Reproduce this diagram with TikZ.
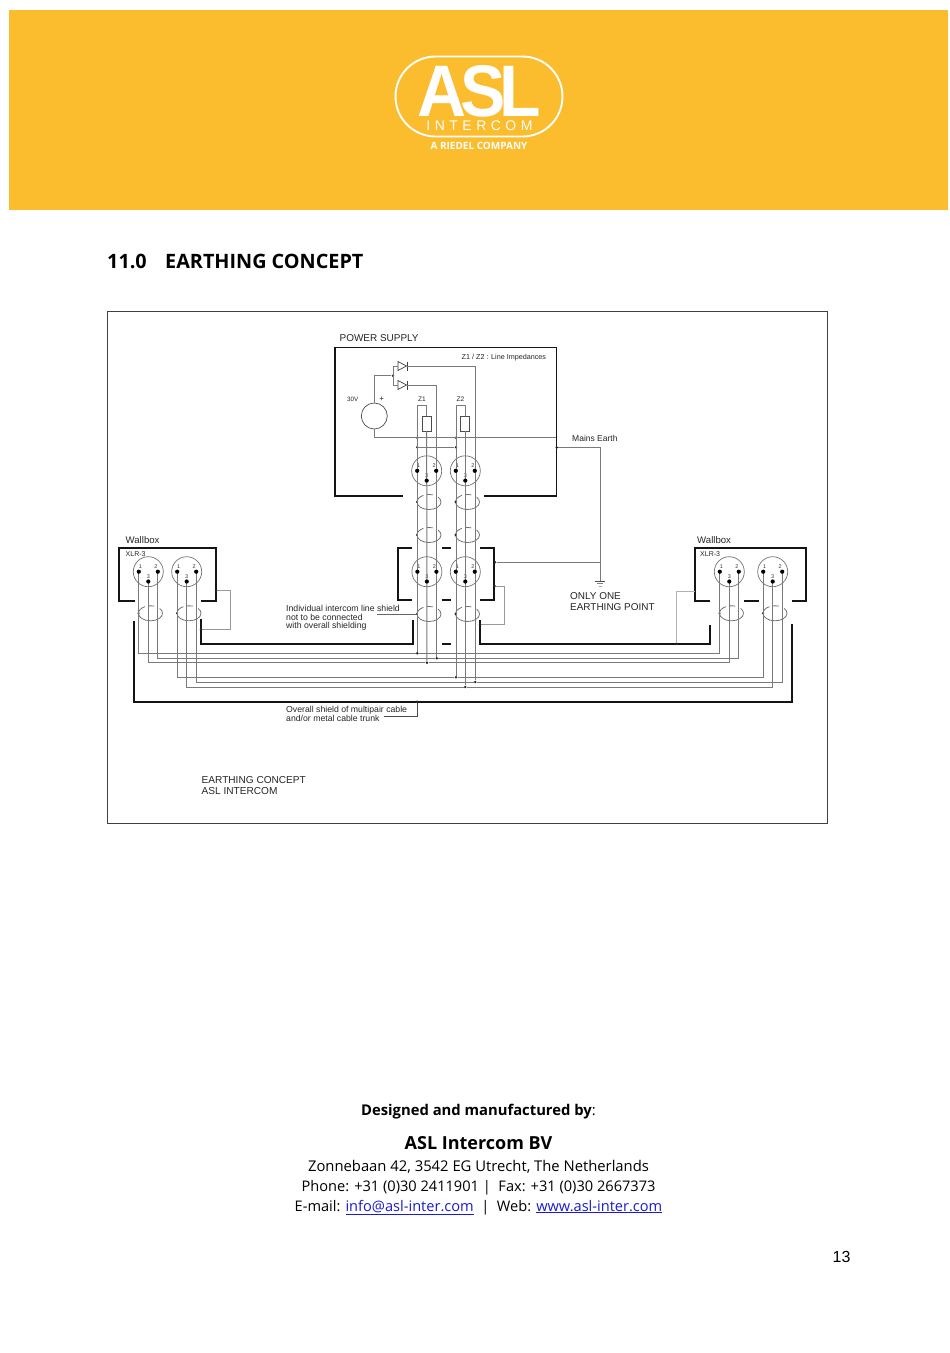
\documentclass[tikz,border=0pt]{standalone}
\usepackage{fontspec}
\setmainfont{Liberation Sans}
\newfontfamily\osans{Open Sans}
\newfontfamily\lspaced[LetterSpace=32]{Liberation Sans}
\definecolor{aslyellow}{HTML}{FBBC2D}
\definecolor{linkblue}{HTML}{1A1AD0}
\definecolor{wirecol}{gray}{0.48}
\definecolor{softwire}{gray}{0.6}
\newcommand{\fsz}[1]{\fontsize{#1}{#1}\selectfont}
\tikzset{
  x=1pt,y=-1pt,
  wire/.style={draw=wirecol,line width=1pt},
  softw/.style={draw=softwire,line width=0.8pt},
  heavy/.style={draw=black!92,line width=1.9pt},
  txt/.style={inner sep=0pt,anchor=base west,text=black!85},
  ctxt/.style={inner sep=0pt,anchor=base,text=black},
  shell/.style={circle,draw=black!55,line width=0.7pt,minimum size=30pt,inner sep=0pt},
  pindot/.style={circle,fill=black,minimum size=4.2pt,inner sep=0pt},
  jdot/.style={circle,fill=black!85,minimum size=2.8pt,inner sep=0pt},
  pinlab/.style={inner sep=0pt,text=black!80,font=\fsz{5.4}},
  shieldline/.style={draw=black!55,line width=0.8pt},
  res/.style={rectangle,draw=black!70,line width=0.7pt,fill=white,minimum width=9pt,minimum height=15pt,inner sep=0pt},
}
% connector: name, x, y
\newcommand{\xlr}[3]{%
  \node[shell] (#1) at (#2,#3) {};
  \node[pinlab] at (#2-8,#3-5) {1};
  \node[pinlab] at (#2+7.5,#3-5) {2};
  \node[pinlab] at (#2,#3+5) {3};
  \coordinate (#1a) at (#2-9.5,#3);
  \coordinate (#1b) at (#2+9.5,#3);
  \coordinate (#1c) at (#2,#3+9.8);
}
% pins are drawn over the wires
\newcommand{\xlrpins}[1]{%
  \node[pindot] at (#1a) {};
  \node[pindot] at (#1b) {};
  \node[pindot] at (#1c) {};
}
% cable shield loop: name, x, y
\newcommand{\shieldloop}[3]{%
  \coordinate (#1) at (#2-12,#3);
  \draw[shieldline] ([shift={(#2,#3)}]180:12pt and 7.5pt) arc[start angle=180,end angle=360,x radius=12pt,y radius=7.5pt];
  \draw[shieldline] ([shift={(#2,#3)}]180:12pt and 7.5pt) arc[start angle=180,end angle=118,x radius=12pt,y radius=7.5pt];
  \draw[shieldline] ([shift={(#2,#3)}]100:12pt and 7.5pt) arc[start angle=100,end angle=72,x radius=12pt,y radius=7.5pt];
  \draw[shieldline] ([shift={(#2,#3)}]40:12pt and 7.5pt) arc[start angle=40,end angle=0,x radius=12pt,y radius=7.5pt];
  \node[jdot,minimum size=2.2pt] at (#1) {};
}
% diode pointing right: name, x, y
\newcommand{\diode}[3]{%
  \coordinate (#1in) at (#2-4.5,#3);
  \coordinate (#1out) at (#2+4.5,#3);
  \draw[draw=black!75,line width=0.7pt] (#2-4.5,#3-4.5) -- (#2+4,#3) -- (#2-4.5,#3+4.5) -- cycle;
  \draw[draw=black!75,line width=0.9pt] (#2+4.5,#3-4.5) -- (#2+4.5,#3+4.5);
}
\begin{document}
\begin{tikzpicture}
\useasboundingbox (0,0) rectangle (950,1353);
\fill[white] (0,0) rectangle (950,1353);
% header
\fill[aslyellow] (9,10) rectangle (947.5,210);
\node[draw=white,line width=1.9pt,rounded corners=40pt,minimum width=167pt,minimum height=80pt,inner sep=0pt] (logoframe) at (479,96.5) {};
\node[inner sep=0pt,anchor=base,text=white] (logoasl) at (479,116) {\fsz{73}\bfseries\scalebox{0.93}[1]{A\kern-6pt S\kern-7pt L}};
\node[inner sep=0pt,anchor=base,text=white] (logoint) at (479.5,130) {\lspaced\fsz{14}INTERCOM};
\node[inner sep=0pt,anchor=base,text=white] (logoriedel) at (479,149) {\osans\fsz{10}\bfseries A RIEDEL COMPANY};
% title
\node[inner sep=0pt,anchor=base west,text=black] (title) at (107,268) {\osans\fsz{19.8}\bfseries 11.0};
\node[inner sep=0pt,anchor=base west,text=black] (title2) at (165,268) {\osans\fsz{19.8}\bfseries EARTHING CONCEPT};
% frame
\node[draw=black!75,line width=0.8pt,minimum width=720pt,minimum height=512pt,inner sep=0pt] (frame) at (467,567) {};

% ---------- power supply box
\draw[heavy] (402.7,495.7) -- (335,495.7) -- (335,347.5) -- (556.5,347.5) -- (556.5,495.7) -- (484,495.7);
\node[txt] (pslabel) at (339.5,341.5) {\fsz{9.95}POWER SUPPLY};
\node[txt] (zlabel) at (461.5,359.2) {\fsz{7.2}Z1 / Z2 : Line Impedances};
\node[txt] (v30) at (347,401.2) {\fsz{6.3}30V};
\node[inner sep=0pt,text=black!85] (plus) at (381.7,399) {\fsz{8}+};
\node[txt] (z1lab) at (418,401.5) {\fsz{6.6}Z1};
\node[txt] (z2lab) at (456.5,401.5) {\fsz{6.6}Z2};
\node[circle,draw=black!70,line width=0.7pt,minimum size=26pt,inner sep=0pt] (src) at (374.3,416) {};
\diode{da}{402.5}{366}
\diode{db}{402.5}{385}
\node[jdot] (jd) at (393,375.7) {};
\coordinate (ja) at (393,366);
\coordinate (jb) at (393,385);
\draw[wire] (src.north) |- (jd);
\draw[wire] (dain) -- (ja) -- (jb) -- (dbin);
\node[res] (r1) at (426.7,423.5) {};
\node[res] (r2) at (465.3,423.5) {};
\coordinate (z1l) at (417.3,405);
\coordinate (z2l) at (456,405);
\coordinate (z1t) at (426.7,405);
\coordinate (z2t) at (465.3,405);
\draw[wire] (z1l) -- (z1t) -- (r1.north);
\draw[wire] (z2l) -- (z2t) -- (r2.north);
\node[jdot] (n1) at (417.3,437.7) {};
\node[jdot] (n2) at (456,437.7) {};
\node[jdot] (n3) at (417.3,447.3) {};
\node[jdot] (n4) at (456,447.3) {};
\coordinate (psedge) at (556,437.7);
\draw[wire] (src.south) |- (psedge);
\draw[wire] (n3) -- (n4);

% ---------- connectors
\xlr{pa}{426.7}{470.8}
\xlr{pb}{465.3}{470.8}
\xlr{ma}{426.9}{571.7}
\xlr{mb}{465.3}{571.7}
\xlr{la}{148.3}{571.7}
\xlr{lb}{186.7}{571.7}
\xlr{ra}{729.3}{571.7}
\xlr{rb}{772.7}{571.7}

% ---------- shield loops
\shieldloop{sp1}{429}{502}
\shieldloop{sp2}{467.5}{502}
\shieldloop{sq1}{429}{535}
\shieldloop{sq2}{467.5}{535}
\shieldloop{sm1}{429}{614}
\shieldloop{sm2}{467.5}{614}
\shieldloop{sl1}{150.5}{613.3}
\shieldloop{sl2}{189}{613.3}
\shieldloop{sr1}{731.5}{613.3}
\shieldloop{sr2}{775}{613.3}

% ---------- bus junctions
\node[jdot] (b1) at (417.3,653.3) {};
\node[jdot] (b2) at (436.7,658.2) {};
\node[jdot] (b3) at (426.9,662.7) {};
\node[jdot] (b4) at (456,677.3) {};
\node[jdot] (b5) at (475.3,682) {};
\node[jdot] (b6) at (465.3,687) {};
% vertical wires through the middle
\draw[wire] (z1l) -- (b1);
\draw[wire] (r1.south) -- (b3);
\draw[wire] (dbout) -| (b2);
\draw[wire] (z2l) -- (b4);
\draw[wire] (r2.south) -- (b6);
\draw[wire] (daout) -| (b5);
% horizontal bus, left connectors to right connectors
\draw[wire] (laa) |- (b1) -| (raa);
\draw[wire] (lab) |- (b2) -| (rab);
\draw[wire] (lac) |- (b3) -| (rac);
\draw[wire] (lba) |- (b4) -| (rba);
\draw[wire] (lbb) |- (b5) -| (rbb);
\draw[wire] (lbc) |- (b6) -| (rbc);
\xlrpins{pa}\xlrpins{pb}\xlrpins{ma}\xlrpins{mb}
\xlrpins{la}\xlrpins{lb}\xlrpins{ra}\xlrpins{rb}

% ---------- left wallbox
\draw[heavy] (135,600.7) -- (119,600.7) -- (119,547.7) -- (216,547.7) -- (216,600.7) -- (201,600.7);
\node[txt] (wl) at (125.5,543) {\fsz{9.6}Wallbox};
\node[txt] (xl) at (125.5,556.4) {\fsz{7}XLR-3};
% ---------- middle wallbox
\draw[heavy] (412,547.7) -- (398.3,547.7) -- (398.3,600) -- (412,600);
\draw[heavy] (480,547.7) -- (494.3,547.7) -- (494.3,600) -- (480,600);
\draw[heavy] (441.7,547.7) -- (451,547.7);
\draw[heavy] (441.7,600) -- (451,600);
\draw[heavy] (441.7,643.7) -- (451,643.7);
% ---------- right wallbox
\draw[heavy] (710.3,600.7) -- (695.3,600.7) -- (695.3,547.7) -- (806.3,547.7) -- (806.3,600.7) -- (791.5,600.7);
\draw[heavy] (743.5,600.7) -- (758.5,600.7);
\node[txt] (wr) at (697,543) {\fsz{9.6}Wallbox};
\node[txt] (xr) at (700,556.4) {\fsz{7}XLR-3};

% ---------- shields of the box sections
\draw[heavy] (201,619) -- (201,643.7) -- (413,643.7) -- (413,620);
\draw[heavy] (480,620) -- (480,643.7) -- (710.3,643.7) -- (710.3,625);
\draw[heavy] (134,620.7) -- (134,701.7) -- (792,701.7) -- (792,624);
\coordinate (lbox) at (216,590.7);
\coordinate (lbk) at (230,590.7);
\coordinate (lbj) at (230,629.3);
\coordinate (lbe) at (201,629.3);
\draw[softw] (lbox) -- (lbk) -- (lbj) -- (lbe);
\node[jdot] at (lbox) {};
\node[jdot] at (lbe) {};
\coordinate (mbox) at (494.5,586);
\coordinate (mbk) at (504,586);
\coordinate (mbj) at (504,624.3);
\coordinate (mbe) at (480,624.3);
\draw[softw] (mbox) -- (mbk) -- (mbj) -- (mbe);
\node[jdot] at (mbox) {};
\node[jdot] at (mbe) {};
\coordinate (rbox) at (695.3,591);
\coordinate (rbk) at (676.7,591);
\node[jdot] (rbe) at (676.7,643.7) {};
\draw[draw=black!30,line width=0.8pt] (rbox) -- (rbk) -- (rbe);

% ---------- earth
\node[jdot] (me) at (556.7,447.5) {};
\coordinate (mek) at (600,447.5);
\coordinate (gnd) at (600,581);
\node[jdot] (ee) at (495,562.3) {};
\coordinate (eek) at (600,562.3);
\draw[wire] (me) -- (mek) -- (gnd);
\draw[wire] (ee) -- (eek);
\draw[draw=black!70,line width=0.8pt] (595,581) -- (605,581);
\draw[draw=black!50,line width=0.8pt] (597,583.5) -- (603,583.5);
\draw[draw=black!35,line width=0.8pt] (598.5,586) -- (601.5,586);
\node[txt] (mains) at (572,441) {\fsz{8.5}Mains Earth};
\node[txt] (one1) at (570,599.5) {\fsz{9.95}ONLY ONE};
\node[txt] (one2) at (570,610) {\fsz{9.95}EARTHING POINT};

% ---------- labels
\node[txt] (ind1) at (286,611) {\fsz{8.7}Individual intercom line shield};
\node[txt] (ind2) at (286,620) {\fsz{8.7}not to be connected};
\node[txt] (ind3) at (286,628.6) {\fsz{8.7}with overall shielding};
\coordinate (indline) at (377,614);
\draw[draw=black!60,line width=0.7pt] (indline) -- (sm1);
\node[txt] (ov1) at (286,712) {\fsz{8.7}Overall shield of multipair cable};
\node[txt] (ov2) at (286,721) {\fsz{8.7}and/or metal cable trunk};
\node[jdot] (ovd) at (417,701.7) {};
\coordinate (ovk) at (417,716.3);
\coordinate (ove) at (384,716.3);
\draw[draw=black!70,line width=0.7pt] (ovd) -- (ovk) -- (ove);
\node[txt] (cap1) at (201.5,783.5) {\fsz{10.1}EARTHING CONCEPT};
\node[txt] (cap2) at (201.5,794.5) {\fsz{10.1}ASL INTERCOM};

% ---------- footer
\node[ctxt] (f1) at (478.5,1115) {\osans\fsz{14.8}\textbf{Designed and manufactured by}:};
\node[ctxt] (f2) at (478.5,1149.5) {\osans\fsz{18}\bfseries ASL Intercom BV};
\node[ctxt] (f3) at (478.5,1171) {\osans\fsz{14.8}Zonnebaan 42, 3542 EG Utrecht, The Netherlands};
\node[ctxt] (f4) at (478.5,1191) {\osans\fsz{14.6}Phone: +31 (0)30 2411901 |\ \ Fax: +31 (0)30 2667373};
\node[ctxt] (f5) at (478.5,1211) {\osans\fsz{14.6}E-mail: \textcolor{linkblue}{\underline{info@asl-inter.com}}\ \ |\ \ Web: \textcolor{linkblue}{\underline{www.asl-inter.com}}};
\node[inner sep=0pt,anchor=base west,text=black] (pg) at (832.5,1262) {\fsz{16}13};
\end{tikzpicture}
\end{document}
